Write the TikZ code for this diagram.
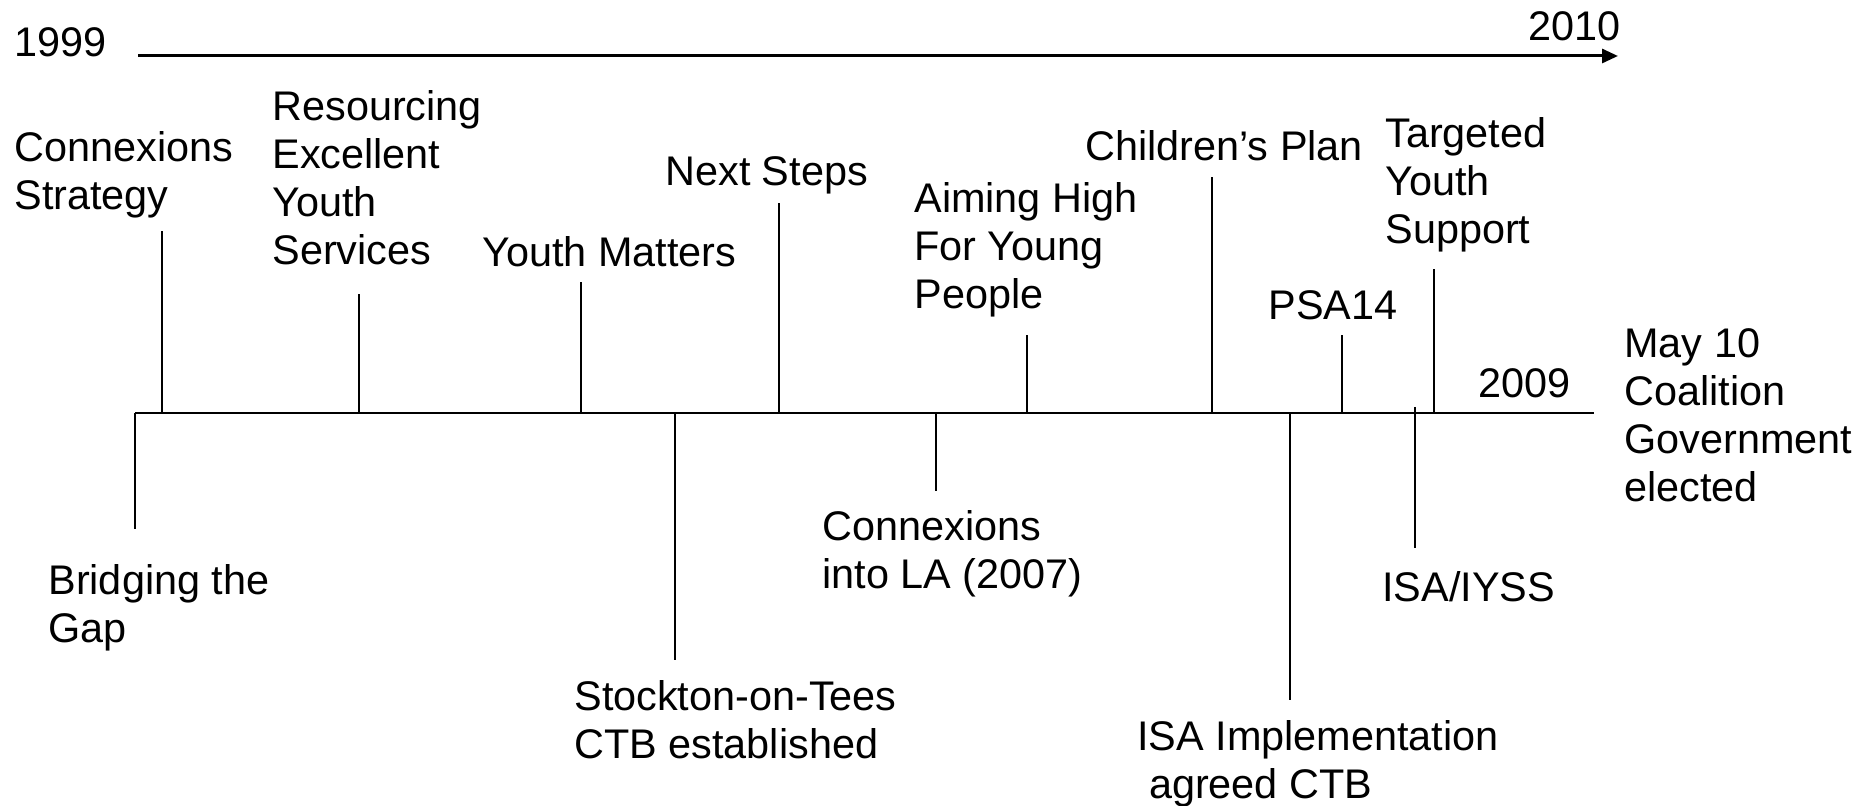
\documentclass[tikz,border=0pt]{standalone}
\usepackage{fontspec}
\setmainfont{Liberation Sans}
\usetikzlibrary{arrows.meta}
\begin{document}
\begin{tikzpicture}
[x=0.5pt,y=-0.5pt,
  lineDecorate/.style={-,line width=0.75pt},%
  axisDecorate/.style={-,line width=1pt},%
  arrowDecorate/.style={-{Triangle[length=8pt,width=7pt]},line width=1.5pt},%
  labelDecorate/.style={anchor=north west,inner sep=0pt,align=left,
    font=\fontsize{20.7}{24}\selectfont}]
\useasboundingbox (0,0) rectangle (1876,806);
%% years and arrow of time
\node (y1999) [labelDecorate,anchor=west] at (14,42) {1999};
\node (y2010) [labelDecorate,anchor=east] at (1621,26) {2010};
\coordinate (arrowL) at (138,56);
\coordinate (arrowR) at (1618,56);
\draw[arrowDecorate] (arrowL) -- (arrowR);
%% main line
\coordinate (axisL) at (135,413);
\coordinate (axisR) at (1594,413);
\draw[axisDecorate] (axisL) -- (axisR);
\node (y2009) [labelDecorate,anchor=west] at (1478,383) {2009};
\node (coalition) [labelDecorate] at (1624,328)
  {May 10\\Coalition\\Government\\elected};
%% events: name/x/tick from/tick to/label x/label y/label
\foreach \name/\x/\from/\to/\tx/\ty/\text in {
  strategy/162/413/231/14/131/{Connexions\\Strategy},
  resourcing/359/413/294/272/90/{Resourcing\\Excellent\\Youth\\Services},
  matters/581/413/282/482/236/{Youth Matters},
  steps/779/413/203/665/156/{Next Steps},
  aiming/1027/413/335/914/182/{Aiming High\\For Young\\People},
  plan/1212/413/177/1085/130/{Children’s Plan},
  psa/1342/413/335/1268/290/{PSA14},
  targeted/1434/413/269/1385/117/{Targeted\\Youth\\Support},
  bridging/135/413/529/48/564/{Bridging the\\Gap},
  stockton/675/413/660/574/680/{Stockton-on-Tees\\CTB established},
  intoLA/936/413/491/822/510/{Connexions\\into LA (2007)},
  implement/1290/413/700/1137/720/{ISA Implementation\\\hspace*{.28em}agreed CTB},
  iyss/1415/407/548/1382/571/{ISA/IYSS}}
{
  \coordinate (\name-a) at (\x,\from);
  \coordinate (\name-b) at (\x,\to);
  \draw[lineDecorate] (\name-a) -- (\name-b);
  \node (\name) [labelDecorate] at (\tx,\ty) {\text};
}
\end{tikzpicture}
\end{document}
